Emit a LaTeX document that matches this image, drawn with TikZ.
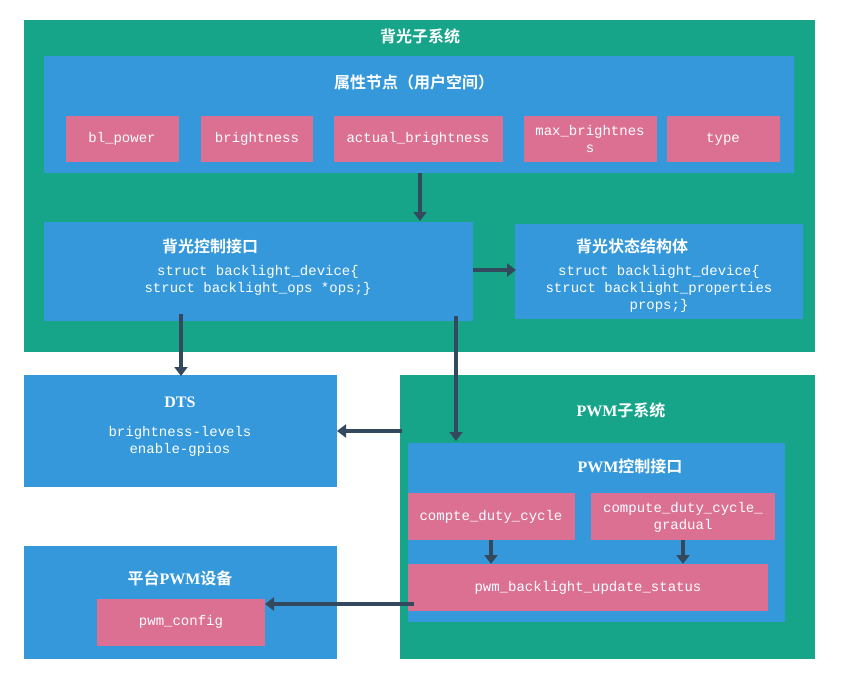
\documentclass[tikz,border=0pt]{standalone}
\usepackage{fontspec}
\setmainfont{Liberation Serif}
\setmonofont{Liberation Mono}
\newfontfamily\cjk{Noto Sans CJK SC}[BoldFont={Noto Sans CJK SC Bold}]
\usetikzlibrary{arrows.meta}
\definecolor{teal1}{HTML}{17A589}
\definecolor{blue1}{HTML}{3498DB}
\definecolor{pink1}{HTML}{DB7093}
\definecolor{arr}{HTML}{34495E}
\newcommand{\hz}[1]{{\cjk\bfseries #1}}
\begin{document}
\begin{tikzpicture}[x=1pt,y=-1pt,
  tealb/.style={fill=teal1,draw=none},
  blueb/.style={fill=blue1,draw=none},
  pinkb/.style={fill=pink1,draw=none},
  mono/.style={text=white,font=\fontsize{14}{17}\selectfont\ttfamily,align=center},
  ttl/.style={text=white,font=\fontsize{16}{19}\selectfont\bfseries},
  ar/.style={draw=arr,line width=4.5pt,-{Triangle[length=9pt,width=13pt]}}]
\useasboundingbox (0,0) rectangle (841,683);
\fill[white] (0,0) rectangle (841,683);
% backlight subsystem
\path[tealb] (24,20) rectangle (815,352);
\node[ttl] (t1) at (420,36) {\hz{背光子系统}};
\path[blueb] (44,56) rectangle (794,173);
\node[ttl] (t2) at (414,82) {\hz{属性节点（用户空间）}};
\path[pinkb] (66,116) rectangle (179,162);
\node[mono] (p1) at (122,139) {bl\_power};
\path[pinkb] (201,116) rectangle (313,162);
\node[mono] (p2) at (257,139) {brightness};
\path[pinkb] (334,116) rectangle (503,162);
\node[mono] (p3) at (418,139) {actual\_brightness};
\path[pinkb] (524,116) rectangle (657,162);
\node[mono] (p4) at (590,139) {max\_brightnes\\s};
\path[pinkb] (667,116) rectangle (780,162);
\node[mono] (p5) at (723,139) {type};
\path[blueb] (44,222) rectangle (473,321);
\node[ttl] (t3) at (210,246) {\hz{背光控制接口}};
\node[mono] (s1) at (258,280) {struct backlight\_device\{\\struct backlight\_ops *ops;\}};
\path[blueb] (515,224) rectangle (803,319);
\node[ttl] (t4) at (632,246) {\hz{背光状态结构体}};
\node[mono] (s2) at (659,289) {struct backlight\_device\{\\struct backlight\_properties\\props;\}};
% DTS
\path[blueb] (24,375) rectangle (337,487);
\node[ttl] (t5) at (180,402) {DTS};
\node[mono] (d1) at (180,441) {brightness-levels\\enable-gpios};
% PWM subsystem
\path[tealb] (400,375) rectangle (815,659);
\node[ttl] (t6) at (621,410) {PWM\hz{子系统}};
\path[blueb] (408,443) rectangle (785,622);
\node[ttl] (t7) at (630,466) {PWM\hz{控制接口}};
\path[pinkb] (408,493) rectangle (575,540);
\node[mono] (c1) at (491,517) {compte\_duty\_cycle};
\path[pinkb] (591,493) rectangle (775,540);
\node[mono] (c2) at (683,517) {compute\_duty\_cycle\_\\gradual};
\path[pinkb] (408,564) rectangle (768,611);
\node[mono] (c3) at (588,588) {pwm\_backlight\_update\_status};
% platform
\path[blueb] (24,546) rectangle (337,659);
\node[ttl] (t8) at (180,578) {\hz{平台}PWM\hz{设备}};
\path[pinkb] (97,599) rectangle (265,646);
\node[mono] (c4) at (181,622) {pwm\_config};
% arrows
\coordinate (a1) at (420,173); \coordinate (a2) at (420,221);
\coordinate (b1) at (473,270); \coordinate (b2) at (516,270);
\coordinate (e1) at (181,314); \coordinate (e2) at (181,376);
\coordinate (f1) at (456,316); \coordinate (f2) at (456,441);
\coordinate (g1) at (402,431); \coordinate (g2) at (337,431);
\coordinate (h1) at (491,540); \coordinate (h2) at (491,564);
\coordinate (i1) at (683,540); \coordinate (i2) at (683,564);
\coordinate (j1) at (414,604); \coordinate (j2) at (265,604);
\foreach \u/\v in {a1/a2,b1/b2,e1/e2,f1/f2,g1/g2,h1/h2,i1/i2,j1/j2}
  \draw[ar] (\u) -- (\v);
\end{tikzpicture}
\end{document}
